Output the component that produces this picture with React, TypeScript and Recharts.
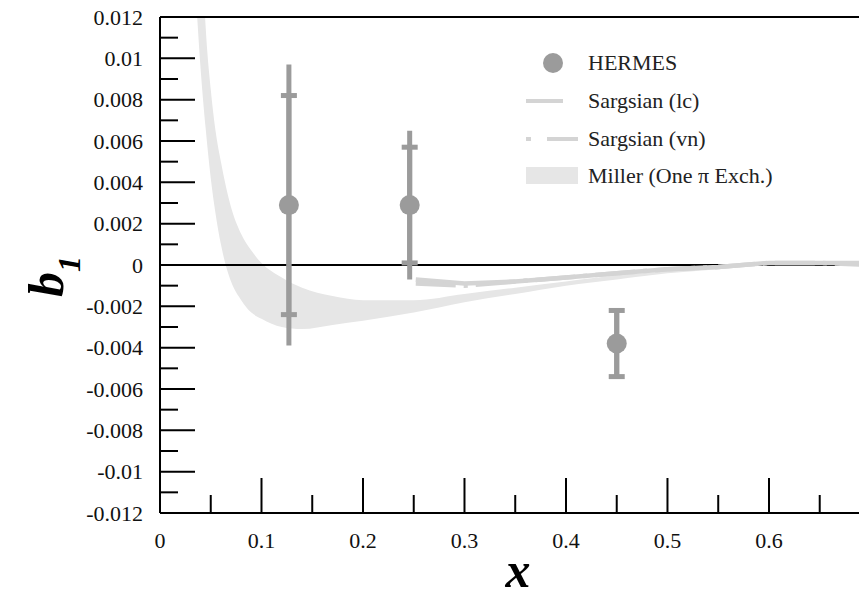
import React from 'react';
import {
  ComposedChart,
  Area,
  Line,
  Scatter,
  ErrorBar,
  XAxis,
  YAxis,
  ReferenceLine,
} from 'recharts';

// Miller (One pi exchange) band: lower / upper edge
const bandX = [0.036, 0.04, 0.045, 0.05, 0.055, 0.06, 0.07, 0.08, 0.09, 0.1, 0.12, 0.14, 0.17, 0.2, 0.25, 0.3, 0.35, 0.4, 0.45, 0.5, 0.55, 0.6, 0.65, 0.7];
const bandLow = [0.0125, 0.0095, 0.0066, 0.0042, 0.0024, 0.001, -0.0008, -0.0017, -0.0023, -0.0026, -0.003, -0.0031, -0.0029, -0.0027, -0.0023, -0.0018, -0.0014, -0.001, -0.0007, -0.0004, -0.0002, 0.0, 0.0001, 0.0001];
const bandHigh = [0.025, 0.017, 0.0115, 0.0085, 0.0064, 0.005, 0.0028, 0.0015, 0.0007, 0.0001, -0.0006, -0.0011, -0.0015, -0.0017, -0.0017, -0.0014, -0.0011, -0.0008, -0.0005, -0.0003, -0.0001, 0.0001, 0.0001, 0.0001];

// Sargsian curves
const sargX = [0.252, 0.3, 0.35, 0.4, 0.45, 0.5, 0.55, 0.6, 0.65, 0.7];
const sargLc = [-0.0007, -0.0009, -0.0008, -0.0006, -0.0004, -0.0002, -0.0001, 0.0001, 0.0001, 0.0001];
const sargVn = [-0.0009, -0.001, -0.0008, -0.0006, -0.0004, -0.0002, -0.0001, 0.0001, 0.0001, 0.0];

// HERMES data
const hermesX = [0.127, 0.246, 0.45];
const hermesY = [0.0029, 0.0029, -0.0038];
const hermesStat = [0.0053, 0.0028, 0.0016];
const hermesTotal = [0.0068, 0.0036, 0.0016];

const xTicks = [0, 0.05, 0.1, 0.15, 0.2, 0.25, 0.3, 0.35, 0.4, 0.45, 0.5, 0.55, 0.6, 0.65];
const yTicks = [
  -0.012, -0.011, -0.01, -0.009, -0.008, -0.007, -0.006, -0.005, -0.004, -0.003, -0.002, -0.001, 0,
  0.001, 0.002, 0.003, 0.004, 0.005, 0.006, 0.007, 0.008, 0.009, 0.01, 0.011, 0.012,
];

const bandData = bandX.map((x, i) => ({ x, range: [bandLow[i], bandHigh[i]] }));
const lcData = sargX.map((x, i) => ({ x, y: sargLc[i] }));
const vnData = sargX.map((x, i) => ({ x, y: sargVn[i] }));
const hermesData = hermesX.map((x, i) => ({
  x,
  y: hermesY[i],
  stat: hermesStat[i],
  total: hermesTotal[i],
}));

const FONT =
  "'Liberation Serif', 'Times New Roman', Tinos, 'Nimbus Roman', 'Nimbus Roman No9 L', FreeSerif, 'DejaVu Serif', Georgia, serif";
const DOT = '#9b9b9b';
const SARG = '#d4d4d4';
const BAND = '#e6e6e6';

const YTick = (props: any) => {
  const { x, y, payload } = props;
  const v = payload.value;
  const major = Math.round(Math.abs(v) * 1000) % 2 === 0;
  return (
    <g>
      <line x1={x} x2={x + (major ? 35 : 18)} y1={y} y2={y} stroke="#000" strokeWidth={2} />
      {major && (
        <text x={x - 17} y={y} dy="0.35em" textAnchor="end" style={{ fontFamily: FONT }} fontSize={22} fill="#111">
          {Number(v.toFixed(3)).toString()}
        </text>
      )}
    </g>
  );
};

const XTick = (props: any) => {
  const { x, y, payload } = props;
  const v = payload.value;
  const major = Math.round(v * 100) % 10 === 0;
  return (
    <g>
      {v !== 0 && (
        <line x1={x} x2={x} y1={y} y2={y - (major ? 35 : 18)} stroke="#000" strokeWidth={2} />
      )}
      {major && (
        <text x={x} y={y + 27} dy="0.35em" textAnchor="middle" style={{ fontFamily: FONT }} fontSize={22} fill="#111">
          {Number(v.toFixed(2)).toString()}
        </text>
      )}
    </g>
  );
};

const Dot = (props: any) => <circle cx={props.cx} cy={props.cy} r={10} fill={DOT} />;

const legendRows = [
  { label: 'HERMES', kind: 'dot', cy: 63 },
  { label: 'Sargsian (lc)', kind: 'lc', cy: 101 },
  { label: 'Sargsian (vn)', kind: 'vn', cy: 139 },
  { label: 'Miller (One \u03c0 Exch.)', kind: 'band', cy: 176 },
];

const LegendIcon = ({ kind }: { kind: string }) => (
  <svg width={66} height={38} style={{ position: 'absolute', left: 0, top: 0 }}>
    {kind === 'dot' && <circle cx={33} cy={19} r={10} fill={DOT} />}
    {kind === 'lc' && <line x1={6} x2={43} y1={19} y2={19} stroke={SARG} strokeWidth={4} />}
    {kind === 'vn' && (
      <line x1={6} x2={58} y1={19} y2={19} stroke={SARG} strokeWidth={4} strokeDasharray="5 16 31" />
    )}
    {kind === 'band' && <rect x={6} y={10} width={52} height={17} fill={BAND} />}
  </svg>
);

export default function App() {
  return (
    <div style={{ position: 'absolute', left: 0, top: 0, width: 859, height: 597, background: '#fff', fontFamily: FONT }}>
      <ComposedChart width={859} height={597} margin={{ top: 17, right: 0, left: 0, bottom: 0 }}>
        <XAxis
          dataKey="x"
          type="number"
          domain={[0, 0.6887]}
          allowDataOverflow
          ticks={xTicks}
          interval={0}
          height={84}
          tickSize={0}
          tickMargin={0}
          tick={<XTick />}
          axisLine={{ stroke: '#000', strokeWidth: 2 }}
          tickLine={false}
        />
        <YAxis
          type="number"
          domain={[-0.012, 0.012]}
          allowDataOverflow
          ticks={yTicks}
          interval={0}
          width={160}
          tickSize={0}
          tickMargin={0}
          tick={<YTick />}
          axisLine={{ stroke: '#000', strokeWidth: 2 }}
          tickLine={false}
          label={{
            content: () => (
              <text
                transform="translate(63,297) rotate(-90)"
                style={{ fontFamily: FONT }}
                fontWeight="bold"
                fontStyle="italic"
                fontSize={50}
                fill="#000"
              >
                b
                <tspan dy={17} fontSize={32}>1</tspan>
              </text>
            ),
          }}
        />
        <ReferenceLine y={0.012} stroke="#000" strokeWidth={2} />
        <ReferenceLine y={0} stroke="#000" strokeWidth={2} />
        <Area
          data={bandData}
          dataKey="range"
          type="monotone"
          fill={BAND}
          fillOpacity={1}
          stroke="none"
          isAnimationActive={false}
        />
        <Line
          data={lcData}
          dataKey="y"
          type="linear"
          stroke={SARG}
          strokeWidth={4.5}
          dot={false}
          isAnimationActive={false}
        />
        <Line
          data={vnData}
          dataKey="y"
          type="linear"
          stroke={SARG}
          strokeWidth={4.5}
          strokeDasharray="40 8 4 8"
          dot={false}
          isAnimationActive={false}
        />
        <Scatter data={hermesData} dataKey="y" fill={DOT} shape={<Dot />} isAnimationActive={false}>
          <ErrorBar dataKey="total" direction="y" width={0} stroke={DOT} strokeWidth={5} isAnimationActive={false} />
          <ErrorBar dataKey="stat" direction="y" width={8} stroke={DOT} strokeWidth={5} isAnimationActive={false} />
        </Scatter>
      </ComposedChart>

      <div
        style={{
          position: 'absolute',
          left: 518,
          top: 575 - 30,
          fontWeight: 'bold',
          fontStyle: 'italic',
          fontSize: 50,
          lineHeight: '50px',
          transform: 'translateX(-50%)',
        }}
      >
        x
      </div>

      {legendRows.map((r) => (
        <div
          key={r.label}
          style={{ position: 'absolute', left: 520, top: r.cy - 19, height: 38, width: 300 }}
        >
          <LegendIcon kind={r.kind} />
          <span
            style={{
              position: 'absolute',
              left: 68,
              top: 0,
              lineHeight: '38px',
              fontSize: 22,
              color: '#222',
              whiteSpace: 'nowrap',
            }}
          >
            {r.label}
          </span>
        </div>
      ))}
    </div>
  );
}
